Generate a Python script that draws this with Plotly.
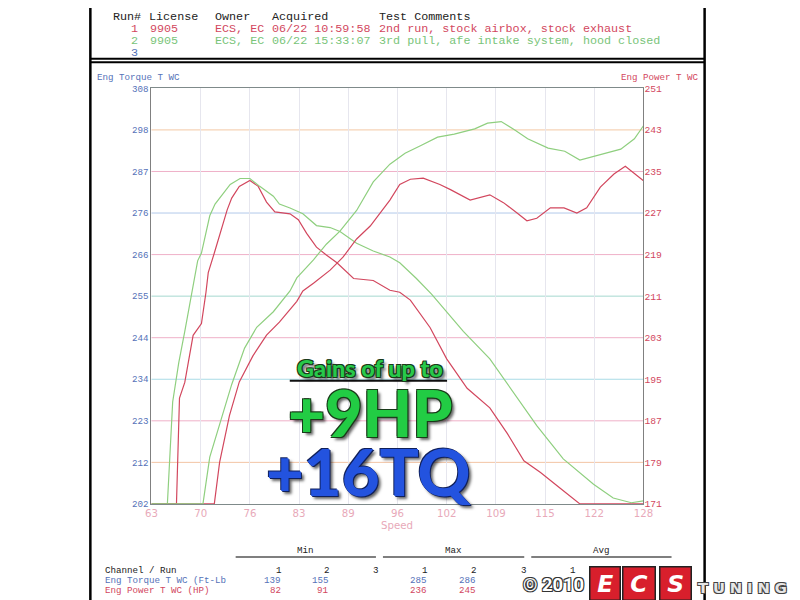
import plotly.graph_objects as go

# ---- data ----
# torque (Ft-Lb, left axis) vs speed
tq1_speed = [63, 66.3, 66.7, 67.4, 68.5, 69.6, 70.2, 70.5, 71.3, 72.2, 73.0, 73.6, 74.6, 76.0, 77.1,
             78.2, 79.3, 81.3, 82.4, 83.5, 84.8, 86.1, 87.5, 89.7, 92.3, 94.5, 95.8, 97.2, 99.8,
             102.0, 104.7, 107.7, 110.0, 112.2, 114.4, 117.0, 119.2, 119.6, 128]
tq1_value = [202, 202, 229, 233, 245, 248, 256, 261, 266, 272, 277, 280, 283, 284.5, 283,
             279, 276.5, 276, 274.5, 271, 267.5, 265.5, 263.5, 259.5, 259, 256.5, 256, 254, 247,
             239, 231.5, 226.5, 220, 213, 210, 206, 202.5, 202, 202]

tq2_speed = [63, 65.1, 65.8, 66.6, 67.4, 68.4, 69.1, 69.6, 70.7, 71.4, 72.2, 73.4, 74.7, 76.0, 77.3,
             79.1, 79.9, 81.3, 83.0, 84.8, 86.6, 87.9, 90.1, 92.3, 94.5, 95.8, 98.0, 100.0, 102.0,
             104.2, 107.7, 110.8, 113.9, 117.4, 121.4, 124.0, 126.4, 128]
tq2_value = [202, 202, 228, 238, 246, 256, 264, 266, 275.5, 278.5, 280.5, 283.5, 285, 285, 283,
             280.5, 278.5, 277.5, 276, 273, 272.5, 271.5, 268.5, 266.5, 265, 263.5, 259.5, 255.5, 251,
             246, 239, 230.5, 222, 213.5, 207, 203.5, 202.3, 202.8]

# power (HP, right axis) vs speed
hp1_speed = [63, 71.3, 72.0, 73.3, 74.6, 76.4, 78.2, 79.9, 82.2, 83.0, 84.4, 86.6, 88.3, 90.1, 91.9,
             93.2, 94.5, 95.8, 97.2, 98.9, 101.1, 102.5, 105.1, 107.7, 109.5, 111.3, 112.6, 113.9,
             115.7, 117.5, 119.2, 120.5, 122.3, 124.1, 125.6, 128]
hp1_value = [171, 171, 179, 188, 194.5, 199.5, 203.5, 206, 210, 212, 213.5, 216, 218.5, 222, 224.5,
             227, 229.5, 232.5, 233.5, 233.7, 232.5, 231.5, 229.5, 230.5, 229, 227, 225.5, 226,
             228, 228, 227, 228, 232, 234.5, 236, 233.2]

hp2_speed = [63, 69.8, 70.7, 72.2, 73.6, 75.3, 76.9, 79.1, 81.3, 82.2, 84.4, 86.1, 87.9, 90.1, 92.3,
             94.5, 96.5, 98.6, 100.8, 103.0, 105.7, 107.4, 109.2, 111.0, 112.7, 115.4, 117.6, 119.6,
             121.4, 122.7, 125.0, 126.8, 128]
hp2_value = [171, 171, 180, 187, 194, 201, 205, 208, 212, 214.5, 218, 221, 223.5, 227.5, 233,
             236.4, 238.5, 240, 241.6, 242.2, 243.2, 244.3, 244.6, 243, 241.3, 239.5, 238.9, 237.2,
             237.9, 238.5, 239.3, 241.3, 243.8]

speed_ticks = [63, 69.5, 76, 82.5, 89, 95.5, 102, 108.5, 115, 121.5, 128]
speed_labels = ['63', '70', '76', '83', '89', '96', '102', '109', '115', '122', '128']
torque_ticks = [202, 212.6, 223.2, 233.8, 244.4, 255, 265.6, 276.2, 286.8, 297.4, 308]
torque_labels = ['202', '212', '223', '234', '244', '255', '266', '276', '287', '298', '308']
power_ticks = [171, 179, 187, 195, 203, 211, 219, 227, 235, 243, 251]
power_labels = [str(v) for v in power_ticks]

# header table
runs = ['1', '2', '3']
licenses = ['9905', '9905', '']
owners = ['ECS, EC', 'ECS, EC', '']
acquired = ['06/22 10:59:58', '06/22 15:33:07', '']
comments = ['2nd run, stock airbox, stock exhaust', '3rd pull, afe intake system, hood closed', '']

# summary table
tq_min = ['139', '155']
tq_max = ['285', '286']
hp_min = ['82', '91']
hp_max = ['236', '245']

RED = '#d2475e'
GREEN = '#8fcf7f'
BLUE = '#5572b8'
MONO = 'Liberation Mono, DejaVu Sans Mono, monospace'

# the page shows the figure slightly shifted and shrunk; positions below are
# given in screen pixels and mapped back to figure pixels
W, H = 800, 600
SX, OX, SY, OY = 0.978, 14.8, 0.981, 13.4
FS = 1.02


def px(x):
    return (x - OX) / SX / W


def py(y):
    return 1 - (y - OY) / SY / H


fig = go.Figure()

fig.add_trace(go.Scatter(x=tq1_speed, y=tq1_value, mode='lines', line=dict(color=RED, width=1.2),
                         showlegend=False))
fig.add_trace(go.Scatter(x=tq2_speed, y=tq2_value, mode='lines', line=dict(color=GREEN, width=1.2),
                         showlegend=False))
fig.add_trace(go.Scatter(x=hp1_speed, y=hp1_value, mode='lines', line=dict(color=RED, width=1.2),
                         yaxis='y2', showlegend=False))
fig.add_trace(go.Scatter(x=hp2_speed, y=hp2_value, mode='lines', line=dict(color=GREEN, width=1.2),
                         yaxis='y2', showlegend=False))

# coloured horizontal grid like the dyno printout
grid_cols = ['#f3c4a4', '#efb0c8', '#a9dbe6', '#efb0c8', '#a6d9cf', '#efb0c8', '#b3c9ea', '#efb0c8', '#f3c8a4']
for val, c in zip(torque_ticks[1:-1], grid_cols):
    fig.add_shape(type='line', xref='x domain', yref='y', x0=0, x1=1, y0=val, y1=val,
                  line=dict(color=c, width=1), layer='below')

fig.update_layout(
    width=W, height=H, autosize=False,
    margin=dict(l=0, r=0, t=0, b=0),
    paper_bgcolor='white', plot_bgcolor='white',
    xaxis=dict(domain=[px(152), px(643)], range=[63, 128], tickvals=speed_ticks, ticktext=speed_labels,
               showgrid=True, gridcolor='#e6e6ee', zeroline=False, showline=True, mirror=True,
               linecolor='#7f8a8a', linewidth=1.2, ticks='',
               tickfont=dict(family='DejaVu Sans, sans-serif', size=10 * FS, color='#e8a9b9')),
    yaxis=dict(domain=[py(504), py(88.7)], range=[202, 308], tickvals=torque_ticks, ticktext=torque_labels,
               showgrid=False, zeroline=False, showline=True, mirror=True, linecolor='#808080',
               linewidth=1.2, ticks='', tickfont=dict(family=MONO, size=9 * FS, color=BLUE)),
    yaxis2=dict(overlaying='y', side='right', range=[171, 251], tickvals=power_ticks, ticktext=power_labels,
                showgrid=False, zeroline=False, showline=False, ticks='',
                tickfont=dict(family=MONO, size=9.5 * FS, color=RED)),
)

ann = []


def text(x, y, s, color='#222', size=11.5, anchor='left', family=MONO, **kw):
    ann.append(dict(x=px(x), y=py(y), xref='paper', yref='paper', text=s, showarrow=False,
                    xanchor=anchor, yanchor='middle',
                    font=dict(family=family, size=size * FS, color=color, **kw)))


# header (its first line sits as high as the page allows)
for x, s in [(112, 'Run#'), (148, 'License'), (213, 'Owner'), (270, 'Acquired'), (377, 'Test Comments')]:
    text(x, 17, s)
row_cols = [RED, '#79c479', BLUE]
for i in range(3):
    y = 29.5 + i * 12
    c = row_cols[i]
    text(141, y, runs[i], c, anchor='right')
    text(149, y, licenses[i], c)
    text(213, y, owners[i], c)
    text(270, y, acquired[i], c)
    text(377, y, comments[i], c)

# axis titles
text(96, 78, 'Eng Torque T WC', BLUE, size=9)
text(700, 78, 'Eng Power T WC', RED, size=9, anchor='right')
text(397, 526, 'Speed', '#e8a9b9', size=10, anchor='center', family='DejaVu Sans, sans-serif')

# summary table
text(306, 551, 'Min', size=9, anchor='center')
text(453, 551, 'Max', size=9, anchor='center')
text(601, 551, 'Avg', size=9, anchor='center')
text(104, 571, 'Channel / Run', size=9)
text(104, 581, 'Eng Torque T WC (Ft-Lb', BLUE, size=9)
text(104, 591, 'Eng Power T WC (HP)', RED, size=9)
col_x = [279, 327, 376, 425, 474, 524, 573]
for i, x in enumerate(col_x):
    text(x, 571, runs[i % 3], size=9, anchor='center')
for i in range(2):
    text(col_x[i] + 4, 581, tq_min[i], BLUE, size=9, anchor='right')
    text(col_x[i + 3] + 4, 581, tq_max[i], BLUE, size=9, anchor='right')
    text(col_x[i] + 4, 591, hp_min[i], RED, size=9, anchor='right')
    text(col_x[i + 3] + 4, 591, hp_max[i], RED, size=9, anchor='right')

# promo overlay
outline = '-1px -1px 0 #1a3a1a, 1px -1px 0 #1a3a1a, -1px 1px 0 #1a3a1a, 1px 1px 0 #1a3a1a, 3px 3px 3px rgba(0,0,0,0.6)'
text(370, 368, 'Gains of up to', '#27c94a', size=23, anchor='center', family='Lato, Roboto, sans-serif',
     weight=900, shadow=outline)
text(371, 413, '+9HP', '#22cc44', size=63, anchor='center', family='Lato, Roboto, sans-serif',
     weight=900, shadow=outline)
text(369, 471, '+16TQ', '#2353df', size=64, anchor='center', family='Lato, Roboto, sans-serif',
     weight=900, shadow='-1px -1px 0 #10205a, 1px 1px 0 #10205a, 3px 3px 3px rgba(0,0,0,0.6)')

# watermark logo
text(553, 585, '© 2010', 'white', size=18, anchor='center', family='Roboto, sans-serif', weight=700,
     shadow='-1px -1px 0 #333, 1px -1px 0 #333, -1px 1px 0 #333, 1px 1px 0 #333')
for x, s in [(605, 'E'), (639, 'C'), (675, 'S')]:
    ann.append(dict(x=px(x), y=py(584), xref='paper', yref='paper', text='<i>\u2009' + s + '\u2009</i>',
                    showarrow=False, xanchor='center', yanchor='middle', bgcolor='#d81f2c', bordercolor='#222',
                    borderwidth=1.5, borderpad=2,
                    font=dict(family='DejaVu Sans, sans-serif', size=23 * FS, color='white', weight=900)))
text(742, 588, '\u2004'.join('TUNING'), '#e6e6e6', size=14.5, anchor='center',
     family='DejaVu Sans, sans-serif', weight=700,
     shadow='-1px -1px 0 #444, 1px -1px 0 #444, -1px 1px 0 #444, 1px 1px 0 #444')

fig.update_layout(annotations=ann)

# frame lines of the printout
frame = [
    (91, 0, 91, 600, 'black', 2.5),
    (704, 0, 704, 600, 'black', 2.5),
    (91, 59, 704, 59, 'black', 2),
    (91, 62.5, 704, 62.5, 'black', 2),
    (236, 557, 376, 557, '#555', 1.5),
    (383, 557, 524, 557, '#555', 1.5),
    (531, 557, 671, 557, '#555', 1.5),
    (290, 381, 447, 381, '#111', 2),
]
for x0, y0, x1, y1, c, w in frame:
    fig.add_shape(type='line', xref='paper', yref='paper', x0=px(x0), y0=py(y0), x1=px(x1), y1=py(y1),
                  line=dict(color=c, width=w))

fig.write_html('out.html')
